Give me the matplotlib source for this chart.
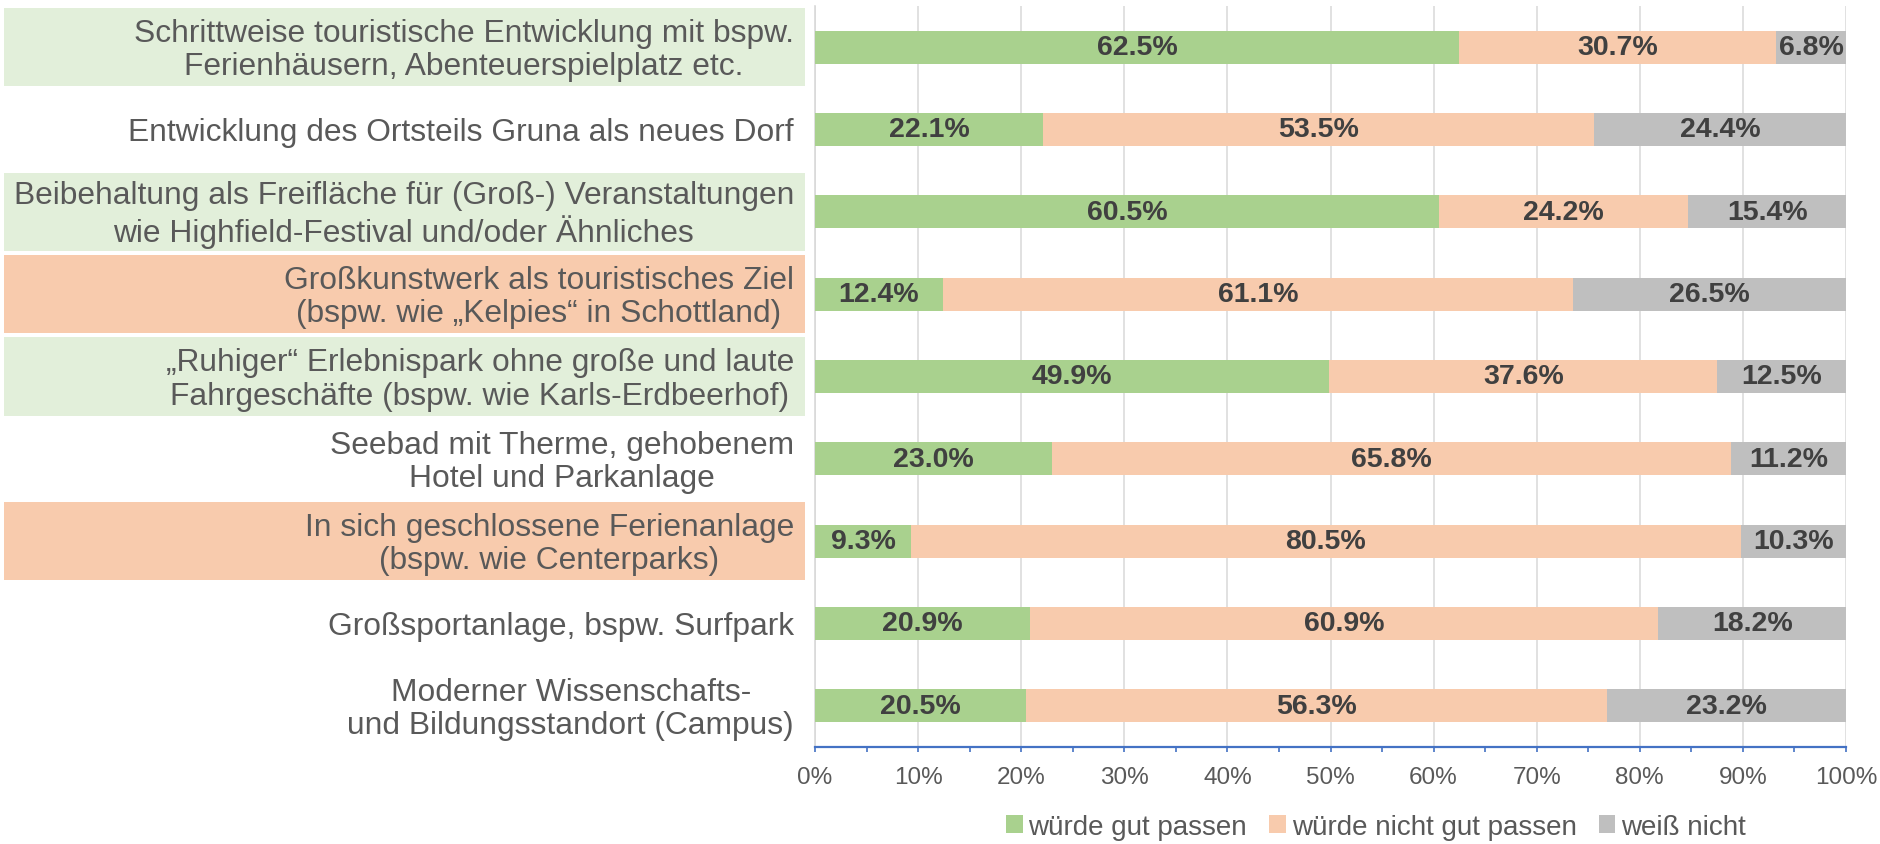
import matplotlib
matplotlib.use("Agg")
import matplotlib.pyplot as plt
import matplotlib.transforms as mtransforms
from matplotlib.patches import Rectangle, Patch
import numpy as np

plt.rcParams['font.family'] = ['Liberation Sans', 'DejaVu Sans']

categories = [
    "Schrittweise touristische Entwicklung mit bspw.\nFerienhäusern, Abenteuerspielplatz etc.",
    "Entwicklung des Ortsteils Gruna als neues Dorf",
    "Beibehaltung als Freifläche für (Groß-) Veranstaltungen\nwie Highfield-Festival und/oder Ähnliches",
    "Großkunstwerk als touristisches Ziel\n(bspw. wie „Kelpies“ in Schottland)",
    "„Ruhiger“ Erlebnispark ohne große und laute\nFahrgeschäfte (bspw. wie Karls-Erdbeerhof)",
    "Seebad mit Therme, gehobenem\nHotel und Parkanlage",
    "In sich geschlossene Ferienanlage\n(bspw. wie Centerparks)",
    "Großsportanlage, bspw. Surfpark",
    "Moderner Wissenschafts-\nund Bildungsstandort (Campus)",
]
gut = [62.5, 22.1, 60.5, 12.4, 49.9, 23.0, 9.3, 20.9, 20.5]
nicht_gut = [30.7, 53.5, 24.2, 61.1, 37.6, 65.8, 80.5, 60.9, 56.3]
weiss_nicht = [6.8, 24.4, 15.4, 26.5, 12.5, 11.2, 10.3, 18.2, 23.2]
series_names = ["würde gut passen", "würde nicht gut passen", "weiß nicht"]
label_highlight = ["green", None, "green", "orange", "green", None, "orange", None, None]
x_ticks = [0, 10, 20, 30, 40, 50, 60, 70, 80, 90, 100]
x_ticklabels = ["0%", "10%", "20%", "30%", "40%", "50%", "60%", "70%", "80%", "90%", "100%"]

colors = ["#A9D18E", "#F8CBAD", "#BFBFBF"]
box_colors = {"green": "#E2EFDA", "orange": "#F8CBAD"}

W, H = 1881, 845
fig = plt.figure(figsize=(W / 100, H / 100), dpi=100)
left, right, bottom, top = 815, 1846, 748, 7
ax = fig.add_axes([left / W, 1 - bottom / H, (right - left) / W, (bottom - top) / H])

y = np.arange(len(categories))
data = [np.array(gut), np.array(nicht_gut), np.array(weiss_nicht)]
cum = np.zeros(len(categories))
for vals, col, name in zip(data, colors, series_names):
    ax.barh(y, vals, left=cum, height=0.4, color=col, label=name, zorder=3)
    for yi, v, c in zip(y, vals, cum):
        ax.text(c + v / 2, yi, f"{v:.1f}%", ha='center', va='center',
                fontsize=20.5, fontweight='bold', color='#404040', zorder=4)
    cum = cum + vals

ax.set_xlim(0, 100)
ax.set_ylim(len(categories) - 0.5, -0.5)
ax.set_yticks([])
ax.set_xticks(x_ticks)
ax.set_xticklabels(x_ticklabels, fontsize=17.5, color='#595959')
ax.set_xticks(np.arange(5, 100, 10), minor=True)
ax.tick_params(axis='x', which='both', direction='out', length=3.8, width=1.2,
               color='#4472C4', pad=10)
ax.xaxis.grid(True, color='#D9D9D9', linewidth=1.1, zorder=0)
ax.set_axisbelow(True)
for s in ['top', 'right']:
    ax.spines[s].set_visible(False)
ax.spines['left'].set_color('#D9D9D9')
ax.spines['left'].set_linewidth(1.2)
ax.spines['bottom'].set_color('#4472C4')
ax.spines['bottom'].set_linewidth(1.6)

trans = mtransforms.blended_transform_factory(fig.transFigure, ax.transData)
for yi, cat, hl in zip(y, categories, label_highlight):
    if hl is not None:
        rect = Rectangle((4 / W, yi - 0.475), (805 - 4) / W, 0.95, transform=trans,
                         facecolor=box_colors[hl], edgecolor='none', clip_on=False, zorder=0)
        fig.add_artist(rect)
    t = fig.text(794 / W, 0, cat, transform=trans, ha='right', va='center',
                 multialignment='center', fontsize=22.9, color='#595959', linespacing=1.15)
    t.set_y(yi + 0.03)

handles = [Patch(facecolor=c, edgecolor='none') for c in colors]
fig.legend(handles, series_names, loc='center', bbox_to_anchor=(1376 / W, 1 - 828 / H),
           ncol=3, frameon=False, fontsize=20, labelcolor='#595959',
           handlelength=0.6, handleheight=0.6, handletextpad=0.2, columnspacing=0.8)

fig.savefig("out.png", dpi=100)
